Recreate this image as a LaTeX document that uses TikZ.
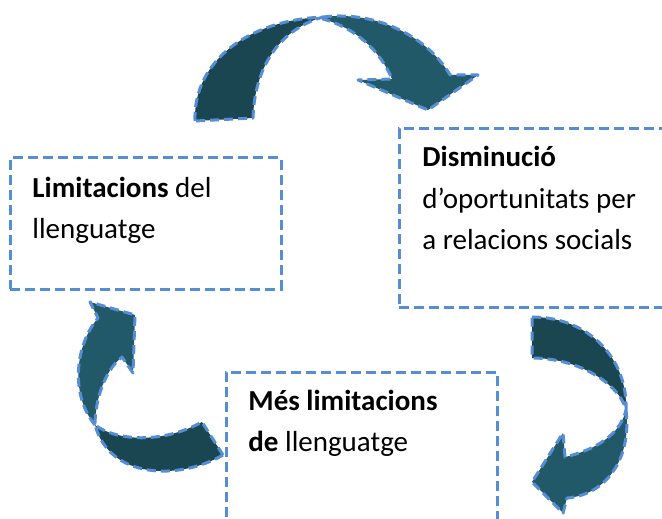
\documentclass[tikz,border=0pt]{standalone}
\usepackage{fontspec}
\setmainfont{Carlito}
\usepackage{tikz}
\definecolor{rand}{HTML}{558ED5}
\definecolor{dunkel}{HTML}{1A4651}
\definecolor{hell}{HTML}{215968}

\begin{document}
\begin{tikzpicture}[x=0.5pt,y=-0.5pt,
  kasten/.style={draw=rand,line width=1.5pt,dash pattern=on 5pt off 2.5pt,
    anchor=north west,minimum width=135.5pt,inner sep=0pt,outer sep=0pt},
  pfeil/.style={draw=rand,line width=1.5pt,dash pattern=on 4.5pt off 2.5pt,line join=round},
  txt/.style={anchor=base west,align=left,inner sep=0pt,
    font=\fontsize{14.5}{20.5}\selectfont}]
\useasboundingbox (0,0) rectangle (662,518);
\clip (0,0) rectangle (662,518);

%Kaesten
\node[kasten,minimum height=65.5pt] (L) at (10,158) {};
\node[kasten,minimum height=89pt] (D) at (399,129) {};
\node[kasten,minimum height=89pt] (M) at (226,372) {};

%Grundlinie der letzten Zeile
\node[txt] (tL) at (32,238) {\textbf{Limitacions} del\\llenguatge};
\node[txt] (tD) at (422,249) {\textbf{Disminució}\\d’oportunitats per\\a relacions socials};
\node[txt] (tM) at (248,451) {\textbf{Més limitacions}\\\textbf{de} llenguatge};

%Pfeil oben
\filldraw[pfeil,fill=dunkel] (195,121) .. controls (193,60) and (250,20) .. (323,17)
  .. controls (285,28) and (255,60) .. (253,118) -- cycle;
\filldraw[pfeil,fill=hell] (323,17) .. controls (380,10) and (430,40) .. (450,75)
  -- (478,75) -- (428,110) -- (358,80) -- (392,79)
  .. controls (380,50) and (355,28) .. (323,19) -- cycle;

%Pfeil rechts
\filldraw[pfeil,fill=dunkel] (532,317) .. controls (590,317) and (628,360) .. (626,410)
  .. controls (620,385) and (580,358) .. (532,358) -- cycle;
\filldraw[pfeil,fill=hell] (626,410) .. controls (632,460) and (605,495) .. (567,498)
  -- (563,513) -- (532,482) -- (563,433) -- (565,457)
  .. controls (595,450) and (620,435) .. (626,410) -- cycle;

%Pfeil links
\filldraw[pfeil,fill=dunkel] (223,455) .. controls (180,480) and (110,480) .. (95,425)
  .. controls (115,440) and (160,445) .. (202,422) -- cycle;
\filldraw[pfeil,fill=hell] (95,425) .. controls (70,395) and (75,345) .. (98,318)
  -- (90,302) -- (135,315) -- (133,373) -- (122,357)
  .. controls (105,370) and (95,400) .. (95,425) -- cycle;
\end{tikzpicture}
\end{document}
